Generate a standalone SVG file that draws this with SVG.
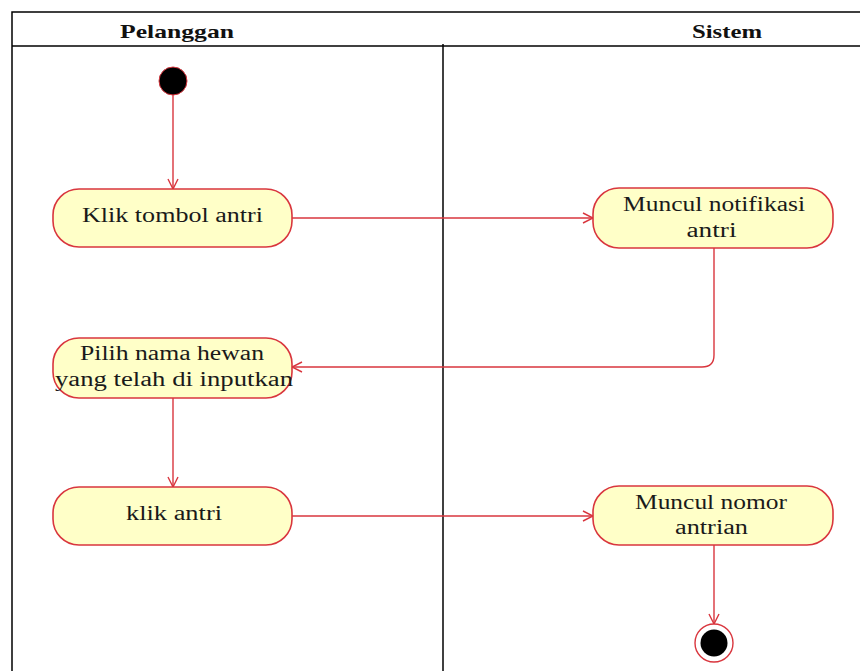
<svg xmlns="http://www.w3.org/2000/svg" width="860" height="671" viewBox="0 0 860 671">
  <style>
    .frame { fill: none; stroke: #000; stroke-width: 1.5; }
    .head { font-family: "Liberation Serif", "DejaVu Serif", serif; font-weight: bold; font-size: 19px; fill: #111; text-anchor: middle; }
    .act { fill: #FFFFC8; stroke: #D9363E; stroke-width: 1.6; }
    .lbl { font-family: "Liberation Serif", "DejaVu Serif", serif; font-size: 20px; fill: #1a1a1a; text-anchor: middle; }
    .flow { fill: none; stroke: #D9363E; stroke-width: 1.4; }
  </style>
  <defs>
    <marker id="open" viewBox="0 0 12 12" refX="11" refY="6" markerWidth="12" markerHeight="12" markerUnits="userSpaceOnUse" orient="auto">
      <path d="M1,1 L11,6 L1,11" fill="none" stroke="#D9363E" stroke-width="1.4"/>
    </marker>
  </defs>
  <rect width="860" height="671" fill="#fff"/>

  <!-- swimlane frame -->
  <g id="lanes">
    <path class="frame" d="M12,671 V12 H860"/>
    <line class="frame" x1="12" y1="46" x2="860" y2="46"/>
    <line class="frame" x1="443" y1="44" x2="443" y2="671"/>
    <text class="head" x="177" y="38" textLength="114" lengthAdjust="spacingAndGlyphs">Pelanggan</text>
    <text class="head" x="727" y="38" textLength="70" lengthAdjust="spacingAndGlyphs">Sistem</text>
  </g>

  <g id="connectors">
    <line class="flow" x1="173" y1="95" x2="173" y2="189" marker-end="url(#open)"/>
    <line class="flow" x1="292" y1="218" x2="593" y2="218" marker-end="url(#open)"/>
    <path class="flow" d="M714,248 V355 Q714,367 702,367 H292" marker-end="url(#open)"/>
    <line class="flow" x1="173" y1="398" x2="173" y2="487" marker-end="url(#open)"/>
    <line class="flow" x1="292" y1="516" x2="593" y2="516" marker-end="url(#open)"/>
    <line class="flow" x1="714" y1="545" x2="714" y2="624" marker-end="url(#open)"/>
  </g>

  <g id="start">
    <circle cx="173" cy="81" r="14" fill="#000" stroke="#D9363E" stroke-width="1"/>
  </g>

  <g id="klik-tombol-antri">
    <rect class="act" x="53" y="189" width="239" height="58" rx="26"/>
    <text class="lbl" x="172.5" y="222" textLength="181" lengthAdjust="spacingAndGlyphs">Klik tombol antri</text>
  </g>

  <g id="muncul-notifikasi">
    <rect class="act" x="593" y="188" width="240" height="60" rx="26"/>
    <text class="lbl" x="714" y="211" textLength="182" lengthAdjust="spacingAndGlyphs">Muncul notifikasi</text>
    <text class="lbl" x="711.5" y="237" textLength="50" lengthAdjust="spacingAndGlyphs">antri</text>
  </g>

  <g id="pilih-nama-hewan">
    <rect class="act" x="53" y="338" width="239" height="60" rx="26"/>
    <text class="lbl" x="172" y="360" textLength="184" lengthAdjust="spacingAndGlyphs">Pilih nama hewan</text>
    <text class="lbl" x="174" y="386" textLength="238" lengthAdjust="spacingAndGlyphs">yang telah di inputkan</text>
  </g>

  <g id="klik-antri">
    <rect class="act" x="53" y="487" width="239" height="58" rx="26"/>
    <text class="lbl" x="174" y="520" textLength="96" lengthAdjust="spacingAndGlyphs">klik antri</text>
  </g>

  <g id="muncul-nomor">
    <rect class="act" x="593" y="486" width="240" height="59" rx="26"/>
    <text class="lbl" x="711" y="509" textLength="152" lengthAdjust="spacingAndGlyphs">Muncul nomor</text>
    <text class="lbl" x="711.5" y="534" textLength="73" lengthAdjust="spacingAndGlyphs">antrian</text>
  </g>

  <g id="end">
    <circle cx="714" cy="643" r="19" fill="#fff" stroke="#D9363E" stroke-width="1.4"/>
    <circle cx="714" cy="643" r="13.5" fill="#000"/>
  </g>
</svg>
